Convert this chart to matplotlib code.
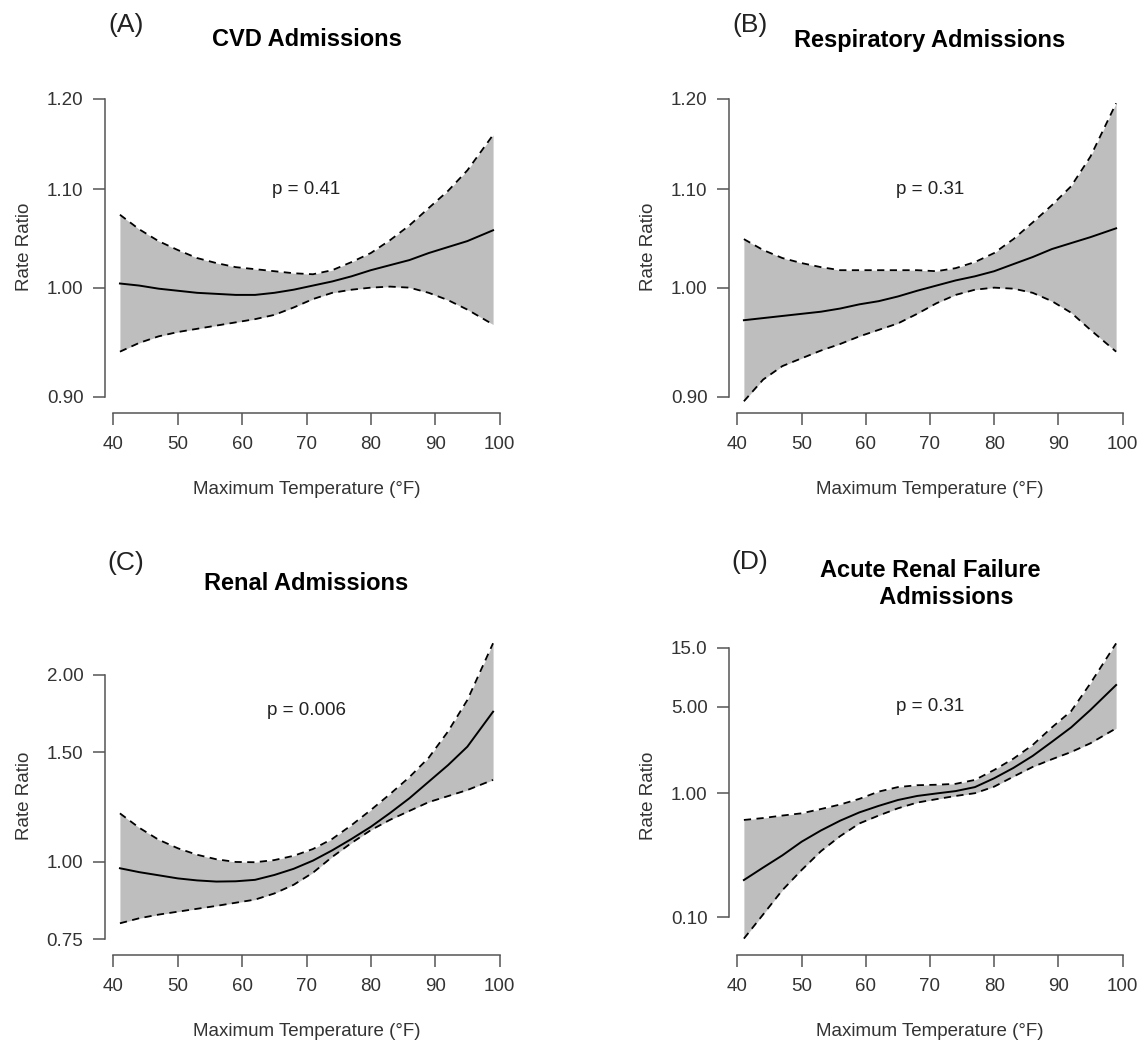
import matplotlib.pyplot as plt
from matplotlib.ticker import NullLocator

plt.rcParams['font.family'] = ['Liberation Sans', 'DejaVu Sans']

W, H = 1143, 1049

# temperature grid (deg F) at which the curves were read
temp = [41, 44, 47, 50, 53, 56, 59, 62, 65, 68, 71, 74, 77, 80, 83, 86, 89, 92, 95, 99]

# (A) CVD
cvd_rr = [1.004, 1.002, 0.999, 0.997, 0.995, 0.994, 0.993, 0.993, 0.995, 0.998, 1.002, 1.006,
          1.011, 1.017, 1.022, 1.027, 1.034, 1.040, 1.046, 1.057]
cvd_hi = [1.073, 1.058, 1.046, 1.037, 1.029, 1.024, 1.020, 1.018, 1.016, 1.014, 1.013, 1.017,
          1.025, 1.034, 1.047, 1.062, 1.080, 1.098, 1.120, 1.159]
cvd_lo = [0.940, 0.948, 0.954, 0.958, 0.961, 0.964, 0.967, 0.970, 0.974, 0.981, 0.989, 0.995,
          0.998, 1.000, 1.001, 1.000, 0.995, 0.988, 0.979, 0.965]

# (B) Respiratory
resp_rr = [0.969, 0.971, 0.973, 0.975, 0.977, 0.980, 0.984, 0.987, 0.9915, 0.997, 1.002, 1.007,
           1.011, 1.016, 1.023, 1.030, 1.038, 1.044, 1.050, 1.059]
resp_hi = [1.048, 1.037, 1.029, 1.024, 1.020, 1.017, 1.017, 1.017, 1.017, 1.017, 1.016, 1.019,
           1.025, 1.034, 1.048, 1.065, 1.083, 1.103, 1.135, 1.195]
resp_lo = [0.896, 0.915, 0.927, 0.934, 0.941, 0.947, 0.954, 0.960, 0.966, 0.975, 0.985, 0.993,
           0.998, 1.000, 0.999, 0.995, 0.987, 0.976, 0.960, 0.940]

# (C) Renal
ren_rr = [0.976, 0.962, 0.951, 0.940, 0.933, 0.929, 0.930, 0.935, 0.952, 0.974, 1.004, 1.043,
          1.088, 1.138, 1.198, 1.265, 1.345, 1.430, 1.531, 1.743]
ren_hi = [1.196, 1.134, 1.085, 1.051, 1.026, 1.009, 0.999, 0.998, 1.006, 1.022, 1.048, 1.088,
          1.145, 1.211, 1.285, 1.368, 1.470, 1.620, 1.820, 2.246]
ren_lo = [0.796, 0.811, 0.822, 0.831, 0.840, 0.849, 0.859, 0.869, 0.889, 0.918, 0.960, 1.018,
          1.072, 1.124, 1.168, 1.207, 1.247, 1.275, 1.304, 1.354]

# (D) Acute renal failure
arf_rr = [0.199, 0.251, 0.315, 0.406, 0.500, 0.600, 0.700, 0.790, 0.881, 0.950, 0.995, 1.040,
          1.12, 1.32, 1.60, 2.00, 2.60, 3.40, 4.70, 7.47]
arf_hi = [0.608, 0.630, 0.660, 0.688, 0.745, 0.810, 0.900, 1.030, 1.120, 1.160, 1.170, 1.19,
          1.28, 1.54, 1.90, 2.45, 3.40, 4.60, 7.71, 16.2]
arf_lo = [0.067, 0.105, 0.165, 0.240, 0.340, 0.450, 0.570, 0.660, 0.755, 0.840, 0.895, 0.950,
          1.00, 1.13, 1.36, 1.63, 1.88, 2.15, 2.53, 3.34]

xticks = [40, 50, 60, 70, 80, 90, 100]

panels = [
    dict(tag="(A)", title="CVD Admissions", rr=cvd_rr, hi=cvd_hi, lo=cvd_lo,
         yticks=[0.90, 1.00, 1.10, 1.20], ylabels=["0.90", "1.00", "1.10", "1.20"],
         p="p = 0.41", p_y=1.10),
    dict(tag="(B)", title="Respiratory Admissions", rr=resp_rr, hi=resp_hi, lo=resp_lo,
         yticks=[0.90, 1.00, 1.10, 1.20], ylabels=["0.90", "1.00", "1.10", "1.20"],
         p="p = 0.31", p_y=1.10),
    dict(tag="(C)", title="Renal Admissions", rr=ren_rr, hi=ren_hi, lo=ren_lo,
         yticks=[0.75, 1.00, 1.50, 2.00], ylabels=["0.75", "1.00", "1.50", "2.00"],
         p="p = 0.006", p_y=1.75),
    dict(tag="(D)", title="Acute Renal Failure\n     Admissions", rr=arf_rr, hi=arf_hi, lo=arf_lo,
         yticks=[0.10, 1.00, 5.00, 15.0], ylabels=["0.10", "1.00", "5.00", "15.0"],
         p="p = 0.31", p_y=5.0),
]

# plot boxes in pixels: left, right, top, bottom; plus title / tag heights
boxes = [(105, 508, 80, 413), (729, 1131, 80, 413),
         (105, 508, 636, 955), (729, 1131, 636, 955)]
title_px = [40, 40, 583, 584]
tag_px = [25, 25, 563, 562]
ylims = [(0.8859, 1.2222), (0.8859, 1.2222), (0.7078, 2.307), (0.0494, 18.58)]

fig = plt.figure(figsize=(W / 100, H / 100), dpi=100)
fig.patch.set_facecolor("white")

axis_col = "#555555"
text_col = "#333333"

for i, pan in enumerate(panels):
    l, r, t, b = boxes[i]
    ax = fig.add_axes([l / W, 1 - b / H, (r - l) / W, (b - t) / H])
    ax.fill_between(temp, pan["lo"], pan["hi"], color="#bebebe", linewidth=0)
    ax.plot(temp, pan["hi"], color="black", lw=1.3, ls=(0, (4, 3)))
    ax.plot(temp, pan["lo"], color="black", lw=1.3, ls=(0, (4, 3)))
    ax.plot(temp, pan["rr"], color="black", lw=1.4)

    ax.set_yscale("log")
    ax.set_xlim(38.68, 101.32)
    ax.set_ylim(*ylims[i])
    ax.yaxis.set_minor_locator(NullLocator())
    ax.set_yticks(pan["yticks"])
    ax.set_yticklabels(pan["ylabels"])
    ax.set_xticks(xticks)
    ax.set_xticklabels([str(v) for v in xticks])

    for s in ["top", "right"]:
        ax.spines[s].set_visible(False)
    ax.spines["left"].set_bounds(pan["yticks"][0], pan["yticks"][-1])
    ax.spines["bottom"].set_bounds(40, 100)
    for s in ["left", "bottom"]:
        ax.spines[s].set_color(axis_col)
        ax.spines[s].set_linewidth(1.1)
    ax.tick_params(axis="both", length=8.5, width=1.1, color=axis_col,
                   labelsize=13.5, labelcolor=text_col)
    ax.tick_params(axis="y", pad=7)
    ax.tick_params(axis="x", pad=8)
    ax.patch.set_alpha(0)

    ax.text(70, pan["p_y"], pan["p"], ha="center", va="center",
            fontsize=13.5, color="#222222")

    ax.set_ylabel("Rate Ratio", fontsize=13.5, color=text_col, labelpad=10)
    ax.set_xlabel("Maximum Temperature (\u00b0F)", fontsize=13.5, color=text_col, labelpad=20)

    cx = (l + r) / 2
    fig.text(cx / W, 1 - title_px[i] / H, pan["title"], ha="center", va="center",
             fontsize=17, fontweight="bold", linespacing=1.2)
    fig.text((l + 21) / W, 1 - tag_px[i] / H, pan["tag"], ha="center", va="center",
             fontsize=19, color="#222222")

fig.savefig("out.png", dpi=100, facecolor="white")
